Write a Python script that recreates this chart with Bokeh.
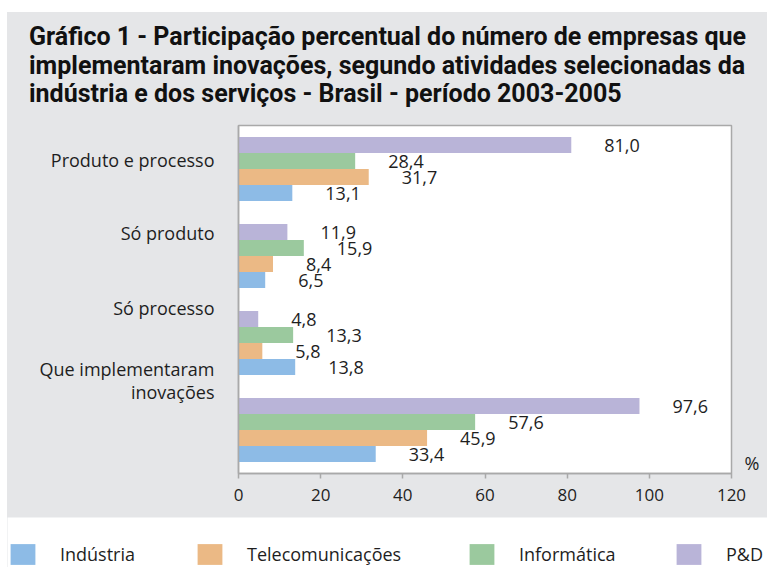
from bokeh.plotting import figure
from bokeh.models import Range1d, FixedTicker, Legend, LegendItem, ColumnDataSource, LinearAxis
from bokeh.layouts import column
from bokeh.embed import file_html
from bokeh.resources import INLINE
from bokeh.core.properties import value

# ---------------- data ----------------
categories = ["Produto e processo", "Só produto", "Só processo", "Que implementaram\ninovações"]
series_names = ["Indústria", "Telecomunicações", "Informática", "P&D"]
industria = [13.1, 6.5, 13.8, 33.4]
telecomunicacoes = [31.7, 8.4, 5.8, 45.9]
informatica = [28.4, 15.9, 13.3, 57.6]
ped = [81.0, 11.9, 4.8, 97.6]
x_ticks = [0, 20, 40, 60, 80, 100, 120]
unit_label = "%"

title_text = ("Gráfico 1 - Participação percentual do número de empresas que\n"
              "implementaram inovações, segundo atividades selecionadas da\n"
              "indústria e dos serviços - Brasil - período 2003-2005")

# ---------------- style ----------------
BG = "#e5e6e8"
GRAYLINE = "#a9a9a9"
TEXT = "#1e1e1e"
FONT = "Open Sans"
colors = ["#8dbbe6", "#ebb985", "#9bc99e", "#b9b4d8"]
bar_h = 16 / 87.0
label_shift = [-0.10, -0.27, -0.40, -0.57]   # vertical placement of category labels
unit_pos = 3.385                              # vertical placement of the "%" mark
legend_x = [0, 187, 459, 666]

all_series = [industria, telecomunicacoes, informatica, ped]

# ---------------- title figure ----------------
tf = figure(width=760, height=112, x_range=Range1d(0, 1), y_range=Range1d(0, 1),
            toolbar_location=None, output_backend="svg",
            x_axis_location=None, y_axis_location=None,
            min_border_left=0, min_border_right=0, min_border_top=101, min_border_bottom=0,
            outline_line_color=None, background_fill_color=BG, border_fill_color=BG)
tf.frame_align = False
tf.grid.visible = False
tf.title.text = title_text
tf.title.align = "center"
tf.title.text_font = "Roboto"
tf.title.text_font_style = "bold"
tf.title.text_font_size = "25px"
tf.title.text_color = "#111111"
tf.title.text_line_height = 0.99
tf.title.standoff = 10

# ---------------- main figure ----------------
p = figure(width=760, height=393, x_range=Range1d(0, 120), y_range=Range1d(3.5, -0.5),
           toolbar_location=None, output_backend="svg",
           min_border_left=231, min_border_right=36, min_border_top=1, min_border_bottom=44,
           background_fill_color="white", border_fill_color=BG,
           outline_line_color=GRAYLINE, outline_line_width=1.5)
p.frame_align = False
p.grid.visible = False

for j, (vals, col) in enumerate(zip(all_series, colors)):
    ys = [i + (1.5 - j) * bar_h for i in range(len(categories))]
    src = ColumnDataSource(dict(y=ys, right=vals,
                                lab=[f"{v:.1f}".replace(".", ",") for v in vals]))
    p.hbar(y="y", left=0, right="right", height=bar_h, source=src,
           fill_color=col, line_color=None)
    p.text(x="right", y="y", text="lab", source=src, x_offset=33,
           text_align="left", text_baseline="middle",
           text_font=value(FONT), text_font_size="18px", text_color=TEXT)

label_pos = [round(i + d, 3) for i, d in enumerate(label_shift)]
p.yaxis.ticker = FixedTicker(ticks=label_pos)
p.yaxis.major_label_overrides = {pos: cat for pos, cat in zip(label_pos, categories)}
p.yaxis.major_tick_line_color = None
p.yaxis.minor_tick_line_color = None
p.yaxis.axis_line_color = GRAYLINE
p.yaxis.axis_line_width = 1.5
p.yaxis.major_label_standoff = 18
p.yaxis.major_label_text_font = FONT
p.yaxis.major_label_text_font_size = "18px"
p.yaxis.major_label_text_color = TEXT
p.yaxis.major_label_text_line_height = 0.95

p.xaxis.ticker = FixedTicker(ticks=x_ticks)
p.xaxis.major_tick_in = 0
p.xaxis.major_tick_out = 5
p.xaxis.major_tick_line_color = GRAYLINE
p.xaxis.major_tick_line_width = 1.5
p.xaxis.minor_tick_line_color = None
p.xaxis.axis_line_color = GRAYLINE
p.xaxis.axis_line_width = 1.5
p.xaxis.major_label_standoff = 10
p.xaxis.major_label_text_font = FONT
p.xaxis.major_label_text_font_size = "17px"
p.xaxis.major_label_text_color = TEXT

unit_axis = LinearAxis(ticker=FixedTicker(ticks=[unit_pos]),
                       major_label_overrides={unit_pos: unit_label},
                       axis_line_color=None, major_tick_line_color=None,
                       minor_tick_line_color=None, major_label_standoff=7,
                       major_label_text_font=FONT, major_label_text_font_size="18px",
                       major_label_text_color=TEXT)
p.add_layout(unit_axis, "right")

# ---------------- legend figure ----------------
lf = figure(width=760, height=50, x_range=Range1d(0, 1), y_range=Range1d(0, 1),
            toolbar_location=None, output_backend="svg",
            x_axis_location=None, y_axis_location=None, min_border=0,
            outline_line_color=None, background_fill_color="white", border_fill_color="white")
lf.frame_align = False
lf.grid.visible = False
for name, col, lx in zip(series_names, colors, legend_x):
    r = lf.hbar(y=[-5], right=[0], height=0.1, fill_color=col, line_color=None)
    leg = Legend(items=[LegendItem(label=name, renderers=[r])], location=(lx, 0),
                 glyph_width=31, glyph_height=26, label_height=26, label_standoff=22,
                 padding=0, margin=0, border_line_color=None, background_fill_alpha=0,
                 label_text_font=FONT, label_text_font_size="18px", label_text_color=TEXT)
    lf.add_layout(leg)

layout = column(tf, p, lf, spacing=0, margin=(12, 0, 0, 7),
                styles={"background-color": BG})
open("out.html", "w").write(file_html(layout, INLINE))
